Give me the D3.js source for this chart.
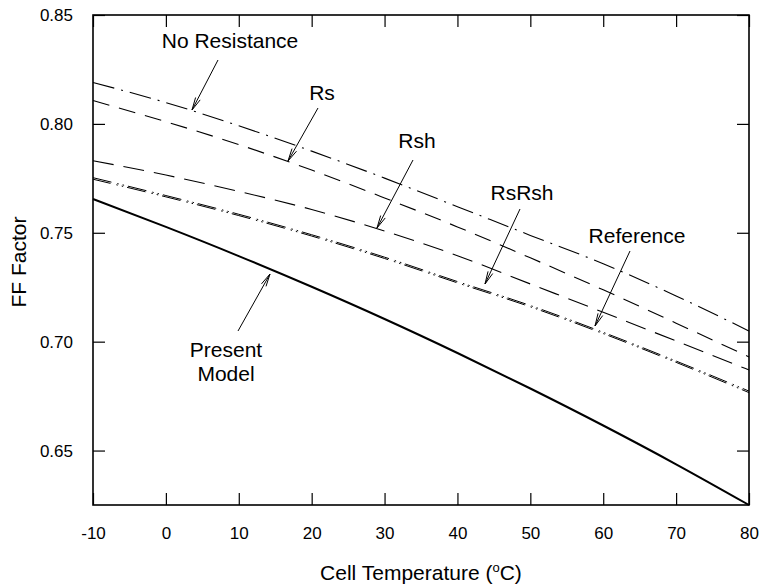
<!DOCTYPE html>
<html><head><meta charset="utf-8">
<script src="https://cdn.jsdelivr.net/npm/d3@7"></script>
<style>body{margin:0;background:#fff}svg{display:block}text{font-family:"Liberation Sans",Arial,sans-serif;fill:#000}</style>
</head><body><svg id="c" width="761" height="588"></svg>
<script>
const temps = [-10, 0, 10, 20, 30, 40, 50, 60, 70, 80];
const noResistance = [0.8190, 0.8098, 0.7991, 0.7875, 0.7751, 0.7620, 0.7488, 0.7358, 0.7210, 0.7049];
const rs = [0.8107, 0.8010, 0.7905, 0.7788, 0.7660, 0.7527, 0.7385, 0.7238, 0.7085, 0.6930];
const rsh = [0.7831, 0.7765, 0.7690, 0.7607, 0.7508, 0.7395, 0.7265, 0.7135, 0.7003, 0.6870];
const rsRsh = [0.7753, 0.7671, 0.7585, 0.7491, 0.7388, 0.7276, 0.7166, 0.7043, 0.6911, 0.6773];
const reference = [0.7746, 0.7665, 0.7579, 0.7485, 0.7382, 0.7270, 0.7160, 0.7037, 0.6905, 0.6766];
const presentModel = [0.7655, 0.7527, 0.7393, 0.7252, 0.7104, 0.6948, 0.6785, 0.6615, 0.6437, 0.6250];
const xTicks = [-10, 0, 10, 20, 30, 40, 50, 60, 70, 80];
const yTicks = [0.65, 0.70, 0.75, 0.80, 0.85];

const svg = d3.select("#c");
const L = 93, R = 749, T = 15, B = 505;
const x = d3.scaleLinear().domain([-10, 80]).range([L, R]);
const y = d3.scaleLinear().domain([0.625, 0.85]).range([B, T]);

const series = [
  {v: noResistance, dash: "22,7,2,7", w: 1.1},
  {v: rs, dash: "17,10", w: 1.1},
  {v: rsh, dash: "21,10", w: 1.1},
  {v: rsRsh, dash: "19,6,1.5,4,1.5,4", w: 1.0},
  {v: reference, dash: "19,6,1.5,4,1.5,4", w: 1.0, off: 1},
  {v: presentModel, dash: null, w: 2}
];
const line = d3.line().x((d, i) => x(temps[i])).y(d => y(d)).curve(d3.curveMonotoneX);
series.forEach(s => {
  const p = svg.append("path").attr("d", line(s.v)).attr("fill", "none")
    .attr("stroke", "#000").attr("stroke-width", s.w);
  if (s.dash) p.attr("stroke-dasharray", s.dash);
  if (s.off) p.attr("stroke-dashoffset", s.off);
});

// axes
const ax = (g) => g.selectAll("text").style("font-size", "17px").style("font-family", '"Liberation Sans",Arial,sans-serif');
svg.append("g").attr("transform", `translate(0,${B})`)
  .call(d3.axisBottom(x).tickValues(xTicks).tickSize(-12).tickPadding(22).tickFormat(d => String(d)))
  .call(g => { g.select(".domain").remove(); ax(g); g.selectAll("line").attr("stroke-width", 1.2); });
svg.append("g").attr("transform", `translate(0,${T})`)
  .call(d3.axisTop(x).tickValues(xTicks).tickSize(-12).tickFormat(""))
  .call(g => { g.select(".domain").remove(); g.selectAll("line").attr("stroke-width", 1.2); });
svg.append("g").attr("transform", `translate(${L},0)`)
  .call(d3.axisLeft(y).tickValues(yTicks).tickSize(-12).tickPadding(20).tickFormat(d3.format(".2f")))
  .call(g => { g.select(".domain").remove(); ax(g); g.selectAll("line").attr("stroke-width", 1.2); });
svg.append("g").attr("transform", `translate(${R},0)`)
  .call(d3.axisRight(y).tickValues(yTicks).tickSize(-12).tickFormat(""))
  .call(g => { g.select(".domain").remove(); g.selectAll("line").attr("stroke-width", 1.2); });
svg.append("rect").attr("x", L).attr("y", T).attr("width", R - L).attr("height", B - T)
  .attr("fill", "none").attr("stroke", "#000").attr("stroke-width", 1.6);

// titles
const xt = svg.append("text").attr("x", (L + R) / 2).attr("y", 580).attr("text-anchor", "middle").style("font-size", "21px");
xt.append("tspan").text("Cell Temperature (");
xt.append("tspan").text("o").attr("dy", -8).style("font-size", "13px");
xt.append("tspan").text("C)").attr("dy", 8);
svg.append("text").attr("transform", "translate(26,262) rotate(-90)").attr("text-anchor", "middle")
  .style("font-size", "21px").text("FF Factor");

// annotations
const notes = [
  {lines: ["No Resistance"], tx: 230, ty: 48, from: [218, 60], to: [192, 110]},
  {lines: ["Rs"], tx: 322, ty: 100, from: [318, 108], to: [288, 161]},
  {lines: ["Rsh"], tx: 417, ty: 148, from: [413, 160], to: [377, 228]},
  {lines: ["RsRsh"], tx: 522, ty: 200, from: [520, 209], to: [485, 284]},
  {lines: ["Reference"], tx: 637, ty: 243, from: [630, 251], to: [595, 326]},
  {lines: ["Present", "Model"], tx: 226, ty: 357, from: [238, 331], to: [270, 274]}
];
notes.forEach(n => {
  const t = svg.append("text").attr("x", n.tx).attr("y", n.ty).attr("text-anchor", "middle").style("font-size", "21px");
  n.lines.forEach((s, i) => t.append("tspan").attr("x", n.tx).attr("dy", i ? 24 : 0).text(s));
  const [x1, y1] = n.from, [x2, y2] = n.to;
  const a = Math.atan2(y2 - y1, x2 - x1), len = 13, sp = 0.2;
  const p1 = [x2 - len * Math.cos(a - sp), y2 - len * Math.sin(a - sp)];
  const p2 = [x2 - len * Math.cos(a + sp), y2 - len * Math.sin(a + sp)];
  svg.append("path").attr("d", `M${x1},${y1}L${x2},${y2}M${p1}L${x2},${y2}L${p2}`)
    .attr("fill", "none").attr("stroke", "#000").attr("stroke-width", 1);
});
</script></body></html>
